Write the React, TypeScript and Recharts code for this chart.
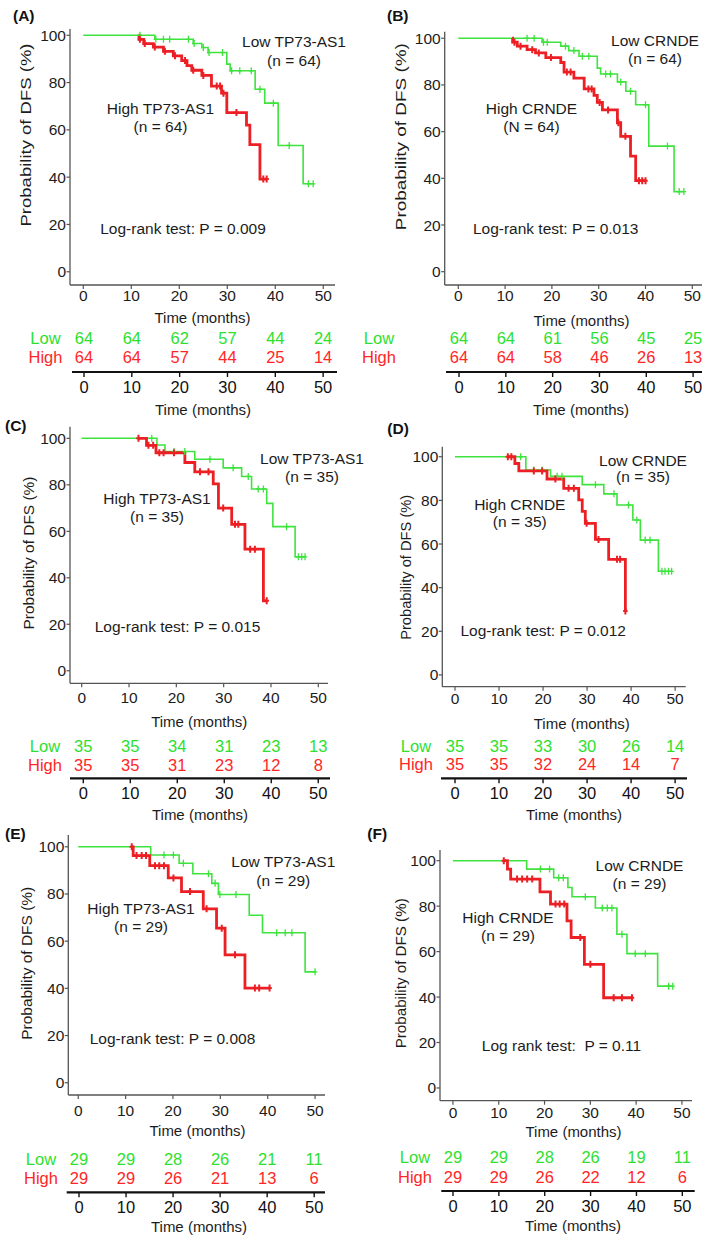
import React from 'react';
import { ComposedChart, Line, Scatter, XAxis, YAxis, Label } from 'recharts';

const W = 709;
const H = 1239;
const FONT = '"Liberation Sans", Arial, Helvetica, sans-serif';
const GREEN = '#3ee33e';
const RED = '#ec1f24';
const GREEN_TXT = '#2ee02e';
const RED_TXT = '#ff2626';
const INK = '#1c1c1c';
const AXIS = '#555555';

type Step = [number, number];

// ---- tick labels ----
const months = [0, 10, 20, 30, 40, 50];
const pctTicks = [0, 20, 40, 60, 80, 100];

// ---- Panel A: TP73-AS1, n = 64 ----
const aLowSteps: Step[] = [[0, 100], [14.9, 98.3], [22.9, 96.5], [24.7, 94.8], [26, 92.7], [29.9, 87.8], [30.6, 85], [35.8, 77.2], [37.8, 71.3], [40.6, 53.4], [45.8, 37.2]];
const aLowCens = [11.8, 15.1, 16.7, 18, 21.9, 23.1, 25, 26.2, 29, 30.9, 32.6, 35, 36.8, 39.6, 42.9, 46.9, 47.9];
const aHighSteps: Step[] = [[11.5, 100], [11.6, 98.3], [12.6, 96.5], [14.6, 95], [16.7, 93.2], [18.75, 91.3], [20.5, 89.3], [21.6, 87.2], [22.6, 85.2], [24.7, 83], [26.7, 78.5], [28.8, 75.5], [29.9, 67.3], [34, 62], [34.7, 53.8], [36.8, 39.2]];
const aHighCens = [11.8, 12.8, 14.9, 17, 19.1, 21.2, 22.9, 25, 27.8, 28.5, 29.2, 31.9, 37.5, 38.2];
const aRiskLow = [64, 64, 62, 57, 44, 24];
const aRiskHigh = [64, 64, 57, 44, 25, 14];

// ---- Panel B: CRNDE, n = 64 ----
const bLowSteps: Step[] = [[0, 100], [17.9, 98.3], [21.9, 96.6], [23.6, 94.7], [25.8, 92.3], [29.7, 87.2], [30.4, 84.7], [34, 81.3], [35.8, 77.3], [37.9, 71.5], [40.7, 53.8], [46.1, 34.3]];
const bLowCens = [14.7, 16.2, 18.2, 19, 22.9, 24.7, 26.5, 27.9, 31.5, 32.5, 34.7, 36.8, 40, 44.7, 47.2, 48.2];
const bHighSteps: Step[] = [[11.5, 100], [11.6, 98.3], [12.6, 96.6], [14.7, 95.1], [16.5, 93.7], [18.7, 91.7], [21.9, 89.6], [22.6, 85.5], [24.7, 82.9], [26.9, 78.3], [29, 75.5], [29.7, 72.5], [30.8, 69.3], [34, 63.8], [34.7, 58], [36.8, 49.5], [37.9, 39]];
const bHighCens = [12, 13.3, 15.8, 17.2, 19.8, 23.2, 24, 27.8, 28.5, 30.2, 32, 34.2, 35.7, 38.6, 39.3, 40];
const bRiskLow = [64, 64, 61, 56, 45, 25];
const bRiskHigh = [64, 64, 58, 46, 26, 13];

// ---- Panel C: TP73-AS1, n = 35 ----
const cLowSteps: Step[] = [[0, 100], [15.9, 97.1], [17.6, 94.3], [23.9, 91], [29.9, 87.3], [33.8, 83.6], [35.9, 78.2], [39.1, 72], [40.4, 62], [45.1, 49]];
const cLowCens = [14.8, 19.5, 21.8, 27.1, 32, 35.2, 37.3, 38.4, 43.3, 45.8, 46.5, 47.2];
const cHighSteps: Step[] = [[12, 100], [13.7, 97], [15.7, 93.8], [21.8, 89.6], [23.9, 85.6], [27.8, 80.4], [28.9, 70], [31.7, 63], [34.5, 52.3], [38.4, 30.1]];
const cHighCens = [12, 14.1, 15.1, 16.4, 17.3, 19.5, 25, 26.8, 29.9, 32.4, 33.1, 35.6, 36.6, 39.1];
const cRiskLow = [35, 35, 34, 31, 23, 13];
const cRiskHigh = [35, 35, 31, 23, 12, 8];

// ---- Panel D: CRNDE, n = 35 ----
const dLowSteps: Step[] = [[0, 100], [16.1, 93.9], [21.7, 91], [28.9, 87.2], [33.8, 83], [36.8, 77.9], [40.4, 71], [42.1, 61.8], [46.2, 47.5]];
const dLowCens = [14.9, 17.9, 19.8, 23.2, 24.3, 31.9, 36.1, 39.4, 41.3, 43.2, 44.3, 47, 47.7, 48.5, 49.2];
const dHighSteps: Step[] = [[12, 100], [13.6, 96.9], [14.5, 93.5], [20.9, 89.8], [24.7, 85.5], [28.1, 80.2], [28.9, 75], [29.6, 69.5], [31.9, 62.1], [34.9, 53], [38.7, 29.3]];
const dHighCens = [12, 12.8, 17.9, 19.8, 22.8, 25.8, 27, 29.9, 32.6, 36.8, 37.5, 38.7];
const dRiskLow = [35, 35, 33, 30, 26, 14];
const dRiskHigh = [35, 35, 32, 24, 14, 7];

// ---- Panel E: TP73-AS1, n = 29 ----
const eLowSteps: Step[] = [[0, 100], [15.3, 96.5], [21.3, 93], [24.2, 88.6], [28.2, 84.5], [29.6, 79.8], [36.1, 71], [38.9, 63.6], [47.9, 47]];
const eLowCens = [18.1, 20.1, 22.2, 27.5, 28.9, 29.9, 33.3, 41.9, 43.7, 45.1, 50];
const eHighSteps: Step[] = [[11.3, 100], [11.6, 96.3], [15.1, 92], [19, 86.8], [21.8, 81], [26.4, 73.7], [29.2, 65.5], [31, 54.2], [35.2, 40.1]];
const eHighCens = [11.3, 12.3, 13.4, 14.3, 16.2, 17.1, 18.1, 20.1, 23.6, 27.1, 30.3, 33.1, 37.3, 38.2, 40.4];
const eRiskLow = [29, 29, 28, 26, 21, 11];
const eRiskHigh = [29, 29, 26, 21, 13, 6];

// ---- Panel F: CRNDE, n = 29 ----
const fLowSteps: Step[] = [[0, 100], [16.1, 96.3], [22, 92.5], [25.1, 88.2], [26, 84.1], [31.1, 79.2], [35.8, 67.6], [38, 59.1], [44.7, 44.8]];
const fLowCens = [19.1, 21.1, 23.1, 24.1, 28.9, 32.6, 33.7, 34.7, 36.9, 39.8, 42, 47.1, 48];
const fHighSteps: Step[] = [[11.1, 100], [11.9, 96.3], [12.6, 91.9], [19, 86.3], [21.3, 80.9], [24.9, 73.5], [25.8, 66.2], [28.7, 54.4], [32.9, 39.7]];
const fHighCens = [11.1, 14, 15.1, 16.2, 17.3, 22.4, 23.3, 24.3, 27.8, 30, 35.1, 36.9, 39.1];
const fRiskLow = [29, 29, 28, 26, 19, 11];
const fRiskHigh = [29, 29, 26, 22, 12, 6];

// ---- helpers (read step value; no generated values) ----
function survivalAt(steps: Step[], t: number): number {
  let s = steps[0][1];
  for (const [st, sv] of steps) {
    if (st <= t + 1e-9) s = sv;
  }
  return s;
}
function curveData(steps: Step[], cens: number[]) {
  const pts = steps.map(([t, s]) => ({ t, s }));
  const last = steps[steps.length - 1];
  const end = Math.max(last[0], ...cens);
  if (end > last[0]) pts.push({ t: end, s: last[1] });
  return pts;
}
function censData(steps: Step[], cens: number[]) {
  return cens.map((t) => ({ t, s: survivalAt(steps, t) }));
}

const censorShape = (color: string, w: number, h: number) => (props: any) => {
  const { cx, cy } = props;
  if (cx == null || cy == null) return <g />;
  return (
    <path
      d={`M${cx},${cy - h}V${cy + h}M${cx - 2.2},${cy}H${cx + 2.2}`}
      stroke={color}
      strokeWidth={w}
      fill="none"
    />
  );
};

const numShape = (color: string) => (props: any) => {
  const { cx, cy, payload } = props;
  if (cx == null || cy == null) return <g />;
  return (
    <text x={cx} y={cy} textAnchor="middle" dominantBaseline="central" fill={color} fontSize={16.5} fontFamily={FONT}>
      {payload.n}
    </text>
  );
};

// ---- layout per panel ----
const panels = [
  {
    letter: '(A)', letterPos: [13, 15],
    km: { left: 70, right: 335, top: 29, bottom: 285, xDom: [-2.77, 52.44], yDom: [-5.6, 102.65], tickM: 1, titleX: 202.5, titleY: 317.5, yl: { x: 25, y: 135, len: 183 } },
    lowSteps: aLowSteps, lowCens: aLowCens, highSteps: aHighSteps, highCens: aHighCens,
    lowName: 'Low TP73-AS1', lowN: '(n = 64)', lowPos: [294, 41.7, 60],
    highName: 'High TP73-AS1', highN: '(n = 64)', highPos: [160.5, 108.3, 126.7],
    test: 'Log-rank test: P = 0.009', testPos: [183, 228.3],
    risk: { left: 72, right: 337, lowY: 338, highY: 357, line: 372, xDom: [-2.51, 52.9], labelX: 45.5, titleX: 203, titleY: 409 },
    riskLow: aRiskLow, riskHigh: aRiskHigh,
  },
  {
    letter: '(B)', letterPos: [387, 15],
    km: { left: 444.7, right: 702, top: 31.7, bottom: 285, xDom: [-2.9, 52.07], yDom: [-5.7, 102.8], tickM: 0.5, titleX: 581.5, titleY: 320, yl: { x: 400.7, y: 136.7, len: 187 } },
    lowSteps: bLowSteps, lowCens: bLowCens, highSteps: bHighSteps, highCens: bHighCens,
    lowName: 'Low CRNDE', lowN: '(n = 64)', lowPos: [655, 40.7, 58.3],
    highName: 'High CRNDE', highN: '(N = 64)', highPos: [531.5, 108.3, 126],
    test: 'Log-rank test: P = 0.013', testPos: [555.7, 228.3],
    risk: { left: 446, right: 702, lowY: 338, highY: 357, line: 372, xDom: [-2.78, 51.9], labelX: 379, titleX: 581, titleY: 409 },
    riskLow: bRiskLow, riskHigh: bRiskHigh,
  },
  {
    letter: '(C)', letterPos: [5, 425],
    km: { left: 70, right: 328, top: 426.7, bottom: 683.3, xDom: [-2.47, 52.05], yDom: [-5.4, 105], tickM: 4.4, titleX: 199.2, titleY: 721.7, yl: { x: 28, y: 553, len: 153 } },
    lowSteps: cLowSteps, lowCens: cLowCens, highSteps: cHighSteps, highCens: cHighCens,
    lowName: 'Low TP73-AS1', lowN: '(n = 35)', lowPos: [312, 458.3, 476.7],
    highName: 'High TP73-AS1', highN: '(n = 35)', highPos: [157, 498.3, 516.7],
    test: 'Log-rank test: P = 0.015', testPos: [177.5, 626.7],
    risk: { left: 70, right: 330, lowY: 746, highY: 765, line: 778.3, xDom: [-2.83, 52.5], labelX: 45, titleX: 200, titleY: 814 },
    riskLow: cRiskLow, riskHigh: cRiskHigh,
  },
  {
    letter: '(D)', letterPos: [387.3, 428.3],
    km: { left: 442.3, right: 685.7, top: 446.7, bottom: 686.7, xDom: [-2.88, 52.4], yDom: [-5.4, 104.6], tickM: 2.6, titleX: 581.8, titleY: 723.3, yl: { x: 405.7, y: 567.3, len: 145 } },
    lowSteps: dLowSteps, lowCens: dLowCens, highSteps: dHighSteps, highCens: dHighCens,
    lowName: 'Low CRNDE', lowN: '(n = 35)', lowPos: [643, 460, 476.7],
    highName: 'High CRNDE', highN: '(n = 35)', highPos: [519.8, 504, 521.7],
    test: 'Log-rank test: P = 0.012', testPos: [543.2, 630],
    risk: { left: 441, right: 687, lowY: 746, highY: 764.3, line: 778.3, xDom: [-3.18, 52.7], labelX: 416, titleX: 574, titleY: 814 },
    riskLow: dRiskLow, riskHigh: dRiskHigh,
  },
  {
    letter: '(E)', letterPos: [5, 833.3],
    km: { left: 68.3, right: 325, top: 835, bottom: 1095, xDom: [-2.1, 52.1], yDom: [-5.2, 105], tickM: 6, titleX: 197.5, titleY: 1130, yl: { x: 26.7, y: 963.3, len: 153 } },
    lowSteps: eLowSteps, lowCens: eLowCens, highSteps: eHighSteps, highCens: eHighCens,
    lowName: 'Low TP73-AS1', lowN: '(n = 29)', lowPos: [283.3, 861.7, 880],
    highName: 'High TP73-AS1', highN: '(n = 29)', highPos: [141, 908.3, 926.7],
    test: 'Log-rank test: P = 0.008', testPos: [172.5, 1038.3],
    risk: { left: 66.7, right: 325, lowY: 1159.3, highY: 1178.3, line: 1192.3, xDom: [-2.62, 52.3], labelX: 41, titleX: 199, titleY: 1226.7 },
    riskLow: eRiskLow, riskHigh: eRiskHigh,
  },
  {
    letter: '(F)', letterPos: [367.3, 833.3],
    km: { left: 440, right: 692, top: 850, bottom: 1100.7, xDom: [-2.83, 52.2], yDom: [-5.6, 104.7], tickM: 2, titleX: 573.5, titleY: 1131.7, yl: { x: 400.7, y: 973.3, len: 150 } },
    lowSteps: fLowSteps, lowCens: fLowCens, highSteps: fHighSteps, highCens: fHighCens,
    lowName: 'Low CRNDE', lowN: '(n = 29)', lowPos: [639.5, 865, 883.3],
    highName: 'High CRNDE', highN: '(n = 29)', highPos: [508, 917.3, 935],
    test: 'Log rank test:  P = 0.11', testPos: [561.5, 1045],
    risk: { left: 441.3, right: 694.7, lowY: 1157.3, highY: 1176.7, line: 1191, xDom: [-2.55, 52.7], labelX: 415, titleX: 573, titleY: 1225 },
    riskLow: fRiskLow, riskHigh: fRiskHigh,
  },
];

const abs: React.CSSProperties = { position: 'absolute', left: 0, top: 0 };

function KmChart({ p }: { p: any }) {
  const k = p.km;
  const YW = 40;
  const XH = 60;
  const margin = { top: k.top, right: W - k.right, bottom: H - k.bottom - XH, left: k.left - YW };
  const low = curveData(p.lowSteps, p.lowCens);
  const high = curveData(p.highSteps, p.highCens);
  const lowC = censData(p.lowSteps, p.lowCens);
  const highC = censData(p.highSteps, p.highCens);
  return (
    <div style={abs}>
      <ComposedChart width={W} height={H} margin={margin}>
        <XAxis
          type="number" dataKey="t" domain={k.xDom} allowDataOverflow ticks={months} interval={0} height={XH}
          axisLine={{ stroke: AXIS, strokeWidth: 1.3 }} tickLine={{ stroke: AXIS, strokeWidth: 1.2 }}
          tickSize={4} tickMargin={k.tickM}
          tick={{ fill: INK, fontSize: 15.5, fontFamily: FONT }}
        >
          <Label content={() => (
            <text x={k.titleX} y={k.titleY} textAnchor="middle" dominantBaseline="central" fill={INK} fontSize={15} fontFamily={FONT}>
              Time (months)
            </text>
          )} />
        </XAxis>
        <YAxis
          type="number" dataKey="s" domain={k.yDom} allowDataOverflow ticks={pctTicks} interval={0} width={YW}
          axisLine={{ stroke: AXIS, strokeWidth: 1.3 }} tickLine={{ stroke: AXIS, strokeWidth: 1.2 }}
          tickSize={3.5} tickMargin={0.5}
          tick={{ fill: INK, fontSize: 15.5, fontFamily: FONT }}
        >
          <Label content={() => (
            <text
              x={k.yl.x} y={k.yl.y} transform={`rotate(-90 ${k.yl.x} ${k.yl.y})`}
              textAnchor="middle" dominantBaseline="central" fill={INK} fontSize={15} fontFamily={FONT}
              textLength={k.yl.len} lengthAdjust="spacingAndGlyphs"
            >
              Probability of DFS (%)
            </text>
          )} />
        </YAxis>
        <Line data={low} dataKey="s" type="stepAfter" stroke={GREEN} strokeWidth={1.6} dot={false} isAnimationActive={false} />
        <Scatter data={lowC} dataKey="s" shape={censorShape(GREEN, 1.3, 3.5)} isAnimationActive={false} />
        <Line data={high} dataKey="s" type="stepAfter" stroke={RED} strokeWidth={2.8} dot={false} isAnimationActive={false} />
        <Scatter data={highC} dataKey="s" shape={censorShape(RED, 2, 3.5)} isAnimationActive={false} />
      </ComposedChart>
    </div>
  );
}

function RiskChart({ p }: { p: any }) {
  const r = p.risk;
  const gap = r.highY - r.lowY;
  const yMin = (r.lowY + 2 * gap - r.line) / gap;
  const XH = 60;
  const margin = { top: r.lowY - gap, right: W - r.right, bottom: H - r.line - XH, left: 0 };
  const lowRows = months.map((t, i) => ({ t, row: 2, n: p.riskLow[i] }));
  const highRows = months.map((t, i) => ({ t, row: 1, n: p.riskHigh[i] }));
  const rowTick = (props: any) => {
    const isLow = props.payload && props.payload.value === 2;
    return (
      <text x={r.labelX} y={props.y} textAnchor="middle" dominantBaseline="central" fill={isLow ? GREEN_TXT : RED_TXT} fontSize={16.5} fontFamily={FONT}>
        {isLow ? 'Low' : 'High'}
      </text>
    );
  };
  return (
    <div style={abs}>
      <ComposedChart width={W} height={H} margin={margin}>
        <XAxis
          type="number" dataKey="t" domain={r.xDom} allowDataOverflow ticks={months} interval={0} height={XH}
          axisLine={{ stroke: '#111', strokeWidth: 2.2 }} tickLine={{ stroke: '#111', strokeWidth: 1.4 }}
          tickSize={5} tickMargin={4}
          tick={{ fill: '#111', fontSize: 16.5, fontFamily: FONT }}
        >
          <Label content={() => (
            <text x={r.titleX} y={r.titleY} textAnchor="middle" dominantBaseline="central" fill={INK} fontSize={15} fontFamily={FONT}>
              Time (months)
            </text>
          )} />
        </XAxis>
        <YAxis
          type="number" dataKey="row" domain={[yMin, 3]} allowDataOverflow ticks={[1, 2]} interval={0} width={r.left}
          axisLine={false} tickLine={false} tick={rowTick}
        />
        <Scatter data={lowRows} dataKey="row" shape={numShape(GREEN_TXT)} isAnimationActive={false} />
        <Scatter data={highRows} dataKey="row" shape={numShape(RED_TXT)} isAnimationActive={false} />
      </ComposedChart>
    </div>
  );
}

function Annotations() {
  return (
    <svg width={W} height={H} style={abs}>
      {panels.map((p, i) => (
        <g key={i} fontFamily={FONT}>
          <text x={p.letterPos[0]} y={p.letterPos[1]} dominantBaseline="central" fontWeight="bold" fontSize={15.5} fill="#111">{p.letter}</text>
          <text x={p.lowPos[0]} y={p.lowPos[1]} textAnchor="middle" dominantBaseline="central" fontSize={15.5} fill={INK}>{p.lowName}</text>
          <text x={p.lowPos[0]} y={p.lowPos[2]} textAnchor="middle" dominantBaseline="central" fontSize={15.5} fill={INK}>{p.lowN}</text>
          <text x={p.highPos[0]} y={p.highPos[1]} textAnchor="middle" dominantBaseline="central" fontSize={15.5} fill={INK}>{p.highName}</text>
          <text x={p.highPos[0]} y={p.highPos[2]} textAnchor="middle" dominantBaseline="central" fontSize={15.5} fill={INK}>{p.highN}</text>
          <text x={p.testPos[0]} y={p.testPos[1]} textAnchor="middle" dominantBaseline="central" fontSize={15.5} fill={INK} style={{ whiteSpace: 'pre' }}>{p.test}</text>
        </g>
      ))}
    </svg>
  );
}

export default function App() {
  return (
    <div style={{ position: 'absolute', left: 0, top: 0, width: W, height: H, background: '#fff', overflow: 'hidden' }}>
      {panels.map((p, i) => (
        <React.Fragment key={i}>
          <KmChart p={p} />
          <RiskChart p={p} />
        </React.Fragment>
      ))}
      <Annotations />
    </div>
  );
}
